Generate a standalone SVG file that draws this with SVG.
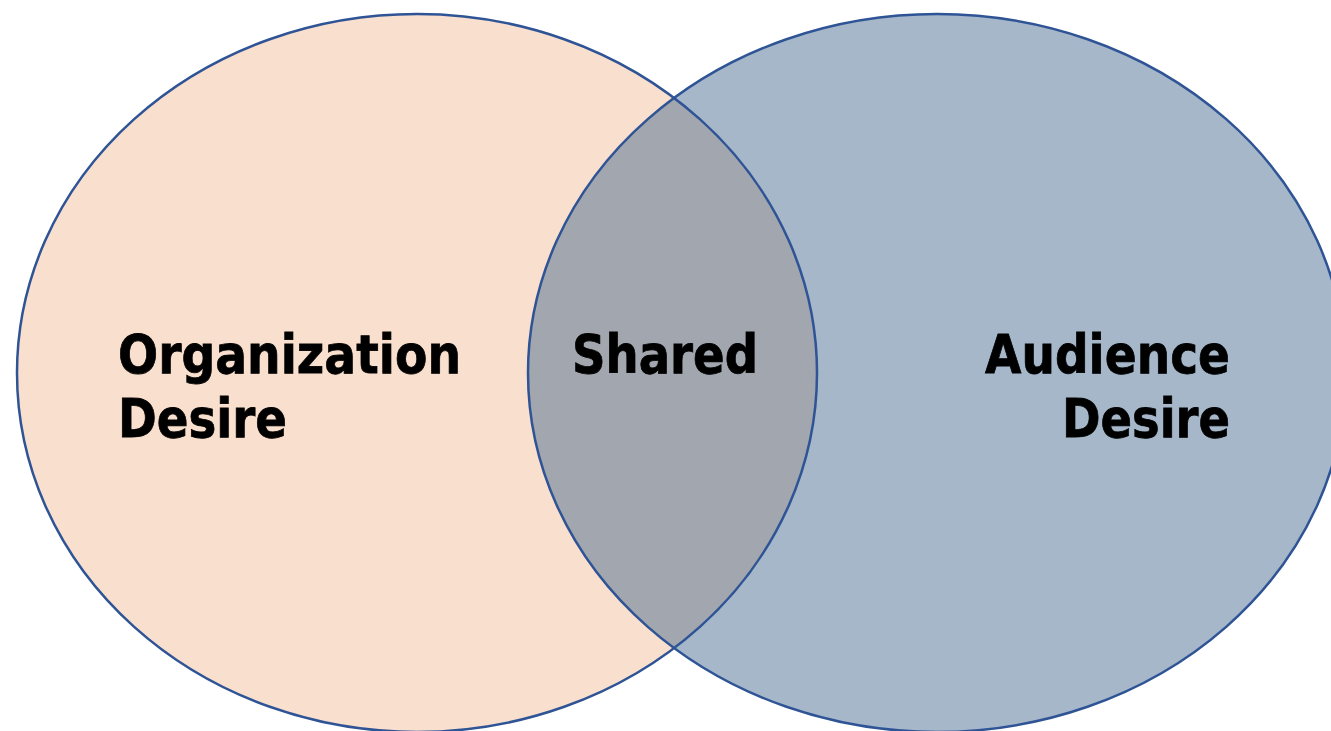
<svg xmlns="http://www.w3.org/2000/svg" width="1331" height="731" viewBox="0 0 1331 731">
  <style>
    .lbl { font-family: "DejaVu Sans", "Liberation Sans", sans-serif; font-weight: bold; font-size: 54px; fill: #000000; stroke: #000000; stroke-width: 0.8; }
    .edge { fill: none; stroke: #2F5496; stroke-width: 2.5; }
  </style>
  <defs>
    <clipPath id="clipLeft">
      <ellipse cx="417" cy="373" rx="400" ry="359"/>
    </clipPath>
  </defs>
  <rect x="0" y="0" width="1331" height="731" fill="#FFFFFF"/>
  <g id="organization-desire">
    <ellipse cx="417" cy="373" rx="400" ry="359" fill="#F9DFCE"/>
  </g>
  <g id="audience-desire">
    <ellipse cx="937" cy="373" rx="409" ry="359" fill="#A5B7C9"/>
  </g>
  <g id="shared">
    <ellipse cx="937" cy="373" rx="409" ry="359" fill="#A2A6AE" clip-path="url(#clipLeft)"/>
  </g>
  <g id="outlines">
    <ellipse class="edge" cx="417" cy="373" rx="400" ry="359"/>
    <ellipse class="edge" cx="937" cy="373" rx="409" ry="359"/>
  </g>
  <g id="labels">
    <text class="lbl" x="118" y="373" textLength="343" lengthAdjust="spacingAndGlyphs">Organization</text>
    <text class="lbl" x="118" y="437" textLength="169" lengthAdjust="spacingAndGlyphs">Desire</text>
    <text class="lbl" x="572" y="373" textLength="186" lengthAdjust="spacingAndGlyphs">Shared</text>
    <text class="lbl" x="985" y="373" textLength="245" lengthAdjust="spacingAndGlyphs">Audience</text>
    <text class="lbl" x="1062" y="437" textLength="168" lengthAdjust="spacingAndGlyphs">Desire</text>
  </g>
  <g id="connectors"/>
</svg>
